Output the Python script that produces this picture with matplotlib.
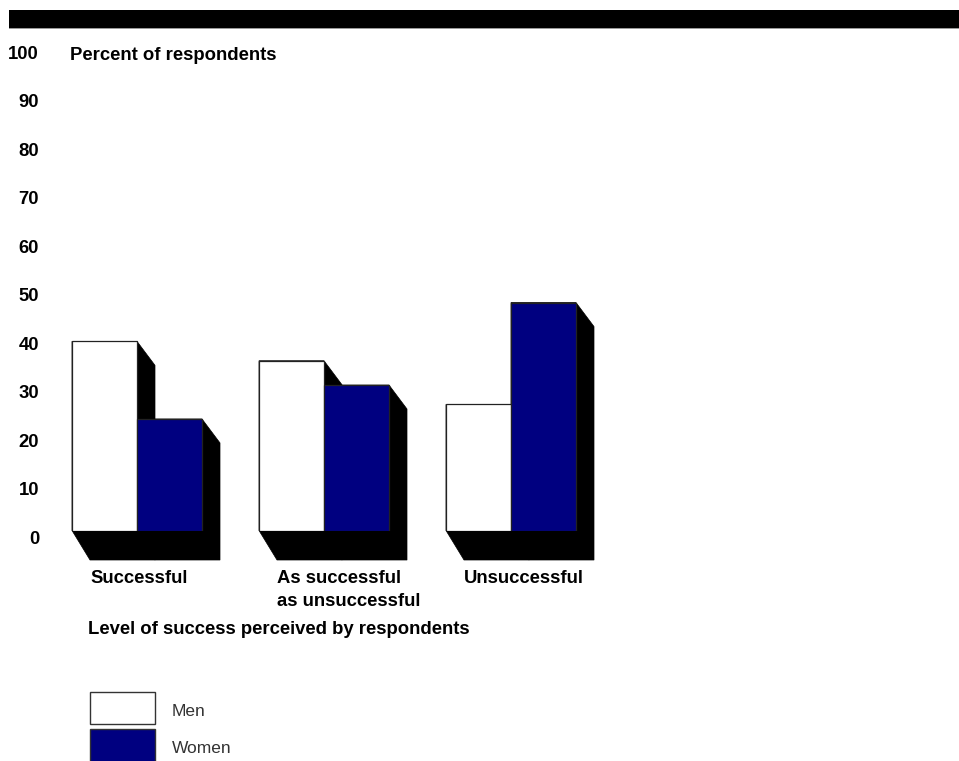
import matplotlib
matplotlib.use('Agg')
import matplotlib.pyplot as plt
from matplotlib.patches import Polygon, Rectangle
import matplotlib.transforms as mtransforms

# ---------------- data ----------------
categories = ["Successful", "As successful\nas unsuccessful", "Unsuccessful"]
men = [39, 35, 26]
women = [23, 30, 47]
yticks = [0, 10, 20, 30, 40, 50, 60, 70, 80, 90, 100]
series_names = ["Men", "Women"]
series_colors = ["white", "#000080"]
ylabel = "Percent of respondents"
xlabel = "Level of success perceived by respondents"

# ---------------- layout ----------------
W, H, DPI = 959, 761, 100
plt.rcParams['font.family'] = ['Liberation Sans', 'DejaVu Sans']
fig = plt.figure(figsize=(W / DPI, H / DPI), dpi=DPI)

y0_px, y100_px = 530.5, 45.5          # pixel rows of 0 and 100
group_px, first_px = 187.0, 137.0     # spacing of groups, first group centre
ax = fig.add_axes([0, (H - y0_px) / H, 1, (y0_px - y100_px) / H])
ax.set_ylim(0, 100)
ax.set_xlim(-first_px / group_px, (W - first_px) / group_px)
ax.axis('off')

px_x = 1.0 / group_px                      # data units per pixel, x
px_y = 100.0 / (y0_px - y100_px)           # data units per pixel, y
bw = 65 * px_x
dx = 18 * px_x
dyt = 24 * px_y
dyb = 29.5 * px_y

xs = list(range(len(categories)))

# shadows
for i in xs:
    for l, h in ((i - bw, men[i]), (i, women[i])):
        r = l + bw
        poly = Polygon([(l, h), (r, h), (r + dx, h - dyt), (r + dx, -dyb),
                        (l + dx, -dyb), (l, 0)], closed=True,
                       facecolor='black', edgecolor='black', lw=0.5,
                       zorder=1, clip_on=False)
        ax.add_patch(poly)

ax.bar([i - bw / 2 for i in xs], men, bw, color=series_colors[0],
       edgecolor='#222222', linewidth=0.9, zorder=3)
ax.bar([i + bw / 2 for i in xs], women, bw, color=series_colors[1],
       edgecolor='#222222', linewidth=0.9, zorder=3)

# y tick labels (drawn slightly below their gridline position)
tick_tr = mtransforms.blended_transform_factory(fig.transFigure, ax.transData) + \
    mtransforms.ScaledTranslation(0, -8.5 / DPI, fig.dpi_scale_trans)
for v in yticks:
    ax.text(39 / W, v, str(v), transform=tick_tr, ha='right', va='center',
            fontsize=13.3, fontweight='bold', color='black')

# axis title
fig.text(70 / W, (H - 59.5) / H, ylabel, ha='left', va='baseline',
         fontsize=13.3, fontweight='bold')

# category labels (one text per line)
line_step = 23.3
for i in xs:
    for j, line in enumerate(categories[i].split("\n")):
        ax.text(i - bw + dx, -(583 + j * line_step - y0_px) * px_y, line,
                ha='left', va='baseline', fontsize=13.3, fontweight='bold',
                clip_on=False)

fig.text(88 / W, (H - 633.5) / H, xlabel, ha='left', va='baseline',
         fontsize=13.3, fontweight='bold')

# top black band
fig.patches.append(Rectangle((9 / W, (H - 28.3) / H), 1 - 9 / W, 18.3 / H,
                             transform=fig.transFigure, facecolor='black',
                             edgecolor='none'))
fig.patches.append(Rectangle((9 / W, (H - 29.3) / H), 1 - 9 / W, 1.0 / H,
                             transform=fig.transFigure, facecolor='#9a9a9a',
                             edgecolor='none'))

# legend
leg_boxes = [(692.3, 724.3), (729.3, 761.5)]
leg_text_y = [711.7, 748.3]
for k, name in enumerate(series_names):
    top, bot = leg_boxes[k]
    fig.patches.append(Rectangle((90 / W, (H - bot) / H), 65 / W, (bot - top) / H,
                                 transform=fig.transFigure,
                                 facecolor=series_colors[k], edgecolor='#333333',
                                 linewidth=1.0))
    fig.text(171.5 / W, (H - leg_text_y[k]) / H, name, ha='left', va='center',
             fontsize=12.5, color='#333333')

fig.savefig('out.png', dpi=DPI, facecolor='white')
